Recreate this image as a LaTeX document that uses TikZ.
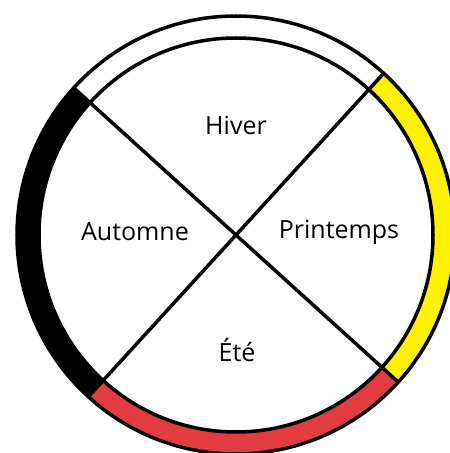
\documentclass[tikz,border=0pt]{standalone}
\usepackage{fontspec}
\setmainfont{Open Sans}
\definecolor{wyellow}{RGB}{255,242,0}
\definecolor{wred}{RGB}{226,60,64}
\tikzset{ring/.style={line width=3.5pt,black},
  lbl/.style={font=\fontsize{25}{29}\selectfont,inner sep=0pt}}
\begin{document}
\begin{tikzpicture}[x=1pt,y=1pt]
\useasboundingbox (0,0) rectangle (450,453);
\clip (0,0) rectangle (450,453);
\coordinate (c) at (236,218);
\def\rIn{197}
\def\rOut{219}
\def\aA{47.6}
\def\aB{137.8}
\def\aC{227.6}
\def\aD{317.8}
% yellow sector
\fill[wyellow] ([shift={(\aD-360:\rOut)}]c) arc[start angle=\aD-360,end angle=\aA,radius=\rOut]
  -- ([shift={(\aA:\rIn)}]c) arc[start angle=\aA,end angle=\aD-360,radius=\rIn] -- cycle;
% black sector
\fill[black] ([shift={(\aB:\rOut)}]c) arc[start angle=\aB,end angle=\aC,radius=\rOut]
  -- ([shift={(\aC:\rIn)}]c) arc[start angle=\aC,end angle=\aB,radius=\rIn] -- cycle;
% red sector
\fill[wred] ([shift={(\aC:\rOut)}]c) arc[start angle=\aC,end angle=\aD,radius=\rOut]
  -- ([shift={(\aD:\rIn)}]c) arc[start angle=\aD,end angle=\aC,radius=\rIn] -- cycle;
% circles
\draw[ring] (c) circle[radius=\rOut];
\draw[ring] (c) circle[radius=\rIn];
% cross lines
\coordinate (pA) at ([shift={(\aA:\rOut)}]c);
\coordinate (pB) at ([shift={(\aB:\rOut)}]c);
\coordinate (pC) at ([shift={(\aC:\rOut)}]c);
\coordinate (pD) at ([shift={(\aD:\rOut)}]c);
\draw[ring] (pA) -- (pC);
\draw[ring] (pB) -- (pD);
% labels
\node[lbl] (hiver) at (236,328) {Hiver};
\node[lbl] (automne) at (135,221) {Automne};
\node[lbl] (printemps) at (339,221) {Printemps};
\node[lbl] (ete) at (237,103) {Été};
\end{tikzpicture}
\end{document}
